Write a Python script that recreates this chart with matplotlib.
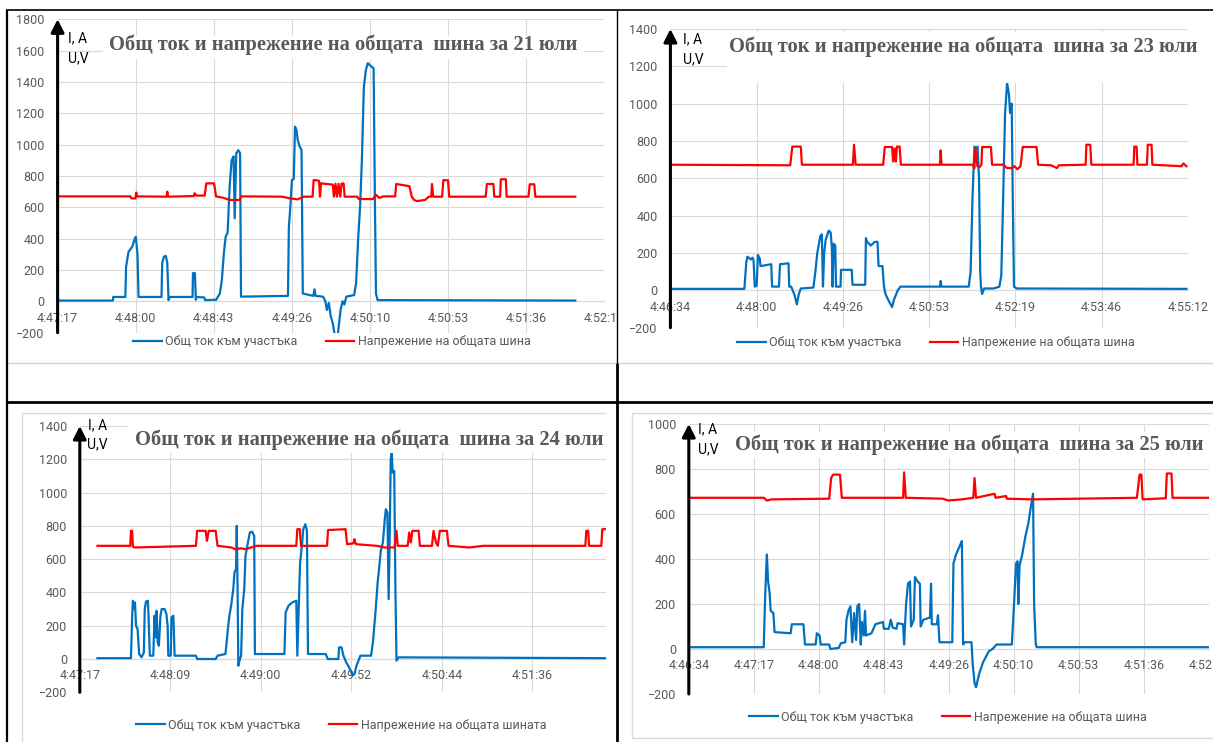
"""Four panels: bus current and voltage for 21, 23, 24 and 25 July (Word table of Excel charts)."""

import matplotlib
matplotlib.use("Agg")
import matplotlib.pyplot as plt
from matplotlib.lines import Line2D
from matplotlib.patches import Rectangle
from matplotlib.transforms import Bbox, TransformedBbox

W, H = 1213, 742

# ── colours / fonts ────────────────────────────────────────────
BLUE = "#0070C0"
RED = "#FF0000"
GRID = "#D9D9D9"
TXT = "#595959"
SANS = ["Roboto", "DejaVu Sans"]
SERIF = ["Liberation Serif", "DejaVu Serif"]

plt.rcParams["font.family"] = SANS

# ── data: time in seconds from the first axis label ───────────
CURRENT_LABEL = "Общ ток към участъка"
VOLTAGE_LABEL = "Напрежение на общата шина"
VOLTAGE_LABEL_24 = "Напрежение на общата шината"

# 21 July
xlabels_21 = ["4:47:17", "4:48:00", "4:48:43", "4:49:26", "4:50:10", "4:50:53", "4:51:36", "4:52:19"]
t21_i = [0, 30.6, 30.8, 37.5, 37.9, 39.2, 41.4, 42.4, 43.3, 44.2,
         44.8, 57.5, 57.9, 58.8, 59.9, 60.7, 61.4, 62.0, 74.7, 74.9,
         76.0, 76.5, 76.9, 81.2, 81.6, 87.7, 89.8, 90.9, 92.0, 93.0,
         94.1, 95.2, 96.3, 97.4, 98.0, 98.9, 100.0, 101.0, 101.5, 127.5,
         128.0, 128.8, 129.7, 130.7, 131.4, 132.2, 132.9, 134.0, 135.0, 135.7,
         141.5, 142.2, 142.8, 146.9, 148.2, 149.0, 150.1, 151.2, 152.3, 153.3,
         155.1, 156.6, 157.7, 158.7, 159.8, 164.1, 165.2, 166.3, 167.4, 168.4,
         169.5, 170.6, 171.7, 172.7, 174.9, 175.6, 176.2, 177.1, 286.5]
i21 = [5, 5, 28, 28, 220, 315, 350, 390, 412, 300,
       28, 28, 245, 285, 290, 245, 8, 28, 28, 180,
       180, 10, 28, 25, 8, 10, 50, 135, 305, 412,
       440, 730, 900, 925, 530, 945, 965, 945, 30, 35,
       476, 604, 775, 780, 1115, 1094, 1030, 987, 966, 50,
       35, 77, 35, 30, 0, -55, -10, -98, -140, -210,
       -210, -55, 0, -20, 30, 40, 115, 390, 604, 900,
       1370, 1476, 1520, 1508, 1487, 650, 50, 8, 5]
t21_u = [0, 40.3, 40.9, 43.1, 43.5, 44.0, 60.3, 60.7, 61.2, 75.4,
         75.8, 76.9, 81.4, 82.3, 86.6, 87.7, 92.0, 95.2, 100.8, 101.6,
         124.3, 128.6, 132.9, 136.1, 141.1, 141.7, 144.7, 145.2, 145.8, 152.3,
         152.9, 153.8, 154.6, 155.5, 156.4, 157.2, 158.3, 158.9, 165.8, 166.7,
         174.5, 176.2, 178.1, 180.3, 186.8, 187.4, 194.7, 196.0, 197.3, 199.0,
         203.3, 205.5, 206.8, 207.2, 207.9, 212.8, 213.5, 216.1, 216.7, 236.9,
         237.6, 241.2, 241.7, 244.9, 245.3, 248.1, 248.5, 260.6, 261.3, 263.8,
         264.4, 286.5]
u21 = [670, 670, 657, 657, 694, 670, 668, 700, 668, 672,
       690, 675, 675, 753, 753, 670, 660, 647, 647, 670,
       668, 657, 651, 668, 668, 774, 770, 668, 753, 745,
       668, 750, 668, 750, 668, 752, 752, 668, 668, 653,
       653, 680, 660, 670, 670, 749, 735, 668, 647, 640,
       647, 668, 668, 749, 668, 668, 774, 772, 668, 668,
       749, 749, 668, 668, 779, 779, 668, 668, 747, 747,
       668, 668]

# 23 July
xlabels_23 = ["4:46:34", "4:48:00", "4:49:26", "4:50:53", "4:52:19", "4:53:46", "4:55:12"]
t23_i = [0, 74.1, 76.0, 77.2, 80.6, 82.2, 83.3, 84.5, 86.4, 87.6,
         89.5, 90.2, 101.0, 101.8, 108.7, 109.8, 118.3, 119.0, 121.0, 124.0,
         126.7, 128.6, 130.6, 143.2, 145.2, 147.1, 150.1, 151.7, 152.8, 154.0,
         155.5, 158.6, 160.5, 161.7, 162.4, 163.6, 165.1, 165.9, 170.4, 170.9,
         181.6, 182.4, 195.1, 195.8, 197.0, 200.8, 204.7, 207.4, 208.5, 212.4,
         213.9, 215.4, 218.1, 222.0, 223.9, 227.7, 230.4, 270.0, 270.7, 271.5,
         298.8, 300.7, 302.6, 304.5, 306.4, 307.6, 309.1, 310.3, 311.0, 312.2,
         314.1, 323.7, 329.5, 331.4, 333.3, 335.2, 337.2, 339.1, 340.2, 341.8,
         342.9, 344.1, 346.8, 516.9]
i23 = [8, 8, 150, 180, 165, 175, 160, 20, 25, 190,
       170, 130, 140, 20, 20, 140, 145, 20, 20, -20,
       -75, -20, 10, 15, 100, 200, 290, 300, 20, 200,
       270, 320, 310, 230, 20, 250, 240, 20, 20, 110,
       110, 30, 30, 280, 260, 240, 260, 260, 130, 130,
       20, -20, -50, -90, -50, 0, 20, 20, 50, 20,
       20, 100, 500, 770, 760, 770, 600, 100, 20, -20,
       10, 10, 20, 80, 500, 950, 1110, 1050, 950, 1000,
       500, 20, 10, 8]
t23_u = [0, 120.0, 122.1, 130.6, 131.7, 182.8, 183.9, 185.5, 213.1, 214.7,
         222.0, 223.1, 224.6, 225.8, 226.9, 229.6, 230.8, 270.0, 270.7, 271.5,
         302.6, 304.5, 305.5, 307.5, 309.5, 311.5, 312.2, 321.0, 322.2, 333.3,
         337.2, 342.1, 344.8, 347.5, 350.6, 352.9, 366.7, 368.3, 381.3, 387.1,
         389.0, 415.9, 416.6, 420.5, 421.6, 463.9, 464.6, 466.9, 467.7, 477.3,
         478.1, 481.9, 482.7, 511.9, 513.8, 516.9]
u23 = [673, 670, 770, 770, 673, 673, 780, 673, 673, 768,
       768, 690, 760, 690, 770, 770, 673, 673, 750, 673,
       673, 655, 760, 665, 660, 673, 768, 768, 673, 673,
       655, 655, 665, 648, 665, 768, 768, 673, 670, 655,
       670, 673, 780, 780, 673, 673, 770, 770, 673, 673,
       780, 780, 673, 665, 680, 665]

# 24 July
xlabels_24 = ["4:47:17", "4:48:09", "4:49:00", "4:49:52", "4:50:44", "4:51:36"]
t24_i = [10.1, 29.3, 30.0, 30.4, 31.1, 31.6, 32.2, 33.1, 34.0, 35.4,
         36.7, 37.2, 37.9, 39.0, 39.4, 40.1, 42.1, 42.8, 43.5, 44.0,
         44.6, 45.3, 46.2, 46.9, 48.5, 49.6, 50.3, 50.7, 52.1, 52.5,
         53.6, 54.3, 66.5, 67.2, 77.8, 78.9, 83.4, 84.1, 85.0, 85.7,
         86.8, 87.9, 88.6, 89.5, 89.9, 90.4, 90.8, 91.7, 92.4, 93.1,
         94.2, 94.9, 96.3, 97.4, 98.7, 99.9, 100.3, 117.2, 117.9, 119.5,
         121.7, 124.0, 124.6, 125.5, 126.2, 127.4, 128.0, 129.2, 130.1, 130.7,
         140.9, 142.0, 148.1, 148.5, 149.9, 151.0, 152.6, 153.7, 155.1, 156.2,
         157.3, 158.5, 160.0, 160.7, 166.8, 167.9, 169.5, 170.6, 171.5, 172.4,
         173.6, 174.7, 175.3, 176.2, 176.9, 177.6, 178.1, 178.7, 179.2, 180.1,
         180.8, 181.4, 182.6, 301.4]
i24 = [5, 5, 260, 350, 300, 340, 200, 180, 30, 10,
       40, 300, 345, 350, 250, 20, 20, 260, 130, 290,
       100, 80, 260, 300, 300, 270, 200, 20, 20, 250,
       260, 20, 20, 0, 0, 20, 30, 100, 200, 260,
       330, 420, 520, 540, 800, 400, -40, 0, 20, 300,
       420, 620, 700, 760, 765, 740, 30, 30, 280, 320,
       340, 350, 20, 350, 580, 700, 780, 810, 770, 30,
       30, 0, 0, 70, 70, 20, -20, -40, -70, -100,
       -90, -40, 0, 20, 20, 100, 300, 460, 550, 650,
       700, 840, 900, 880, 360, 800, 1200, 1240, 1120, 1130,
       400, -10, 10, 5]
t24_u = [10.1, 28.9, 29.3, 30.0, 30.4, 31.6, 66.5, 67.2, 72.1, 72.8,
         73.9, 77.8, 78.9, 86.8, 89.0, 92.4, 94.7, 98.0, 101.4, 124.0,
         124.6, 126.0, 126.7, 141.6, 142.2, 152.2, 153.1, 156.7, 157.3, 157.8,
         158.2, 170.2, 174.7, 180.3, 181.4, 182.1, 187.8, 188.7, 189.6, 190.5,
         194.1, 194.8, 201.7, 202.6, 204.0, 205.1, 206.2, 210.3, 211.2, 223.1,
         231.0, 289.6, 290.1, 291.2, 291.7, 298.7, 299.3, 301.4]
u24 = [680, 680, 770, 770, 675, 670, 680, 770, 770, 710,
       770, 770, 680, 670, 660, 665, 660, 670, 680, 680,
       780, 780, 680, 680, 775, 780, 690, 695, 720, 700,
       690, 680, 670, 670, 770, 680, 680, 760, 700, 770,
       770, 680, 680, 770, 700, 680, 770, 770, 680, 670,
       680, 680, 770, 770, 680, 680, 780, 780]

# 25 July
xlabels_25 = ["4:46:34", "4:47:17", "4:48:00", "4:48:43", "4:49:26", "4:50:10", "4:50:53", "4:51:36", "4:52:19"]
t25_i = [0, 49.8, 50.6, 51.4, 51.9, 52.7, 53.7, 54.4, 56.2, 57.0,
         67.7, 68.5, 76.2, 77.2, 84.3, 85.1, 86.9, 87.7, 93.3, 94.1,
         99.7, 101.0, 104.0, 104.8, 106.1, 107.4, 108.6, 109.9, 111.2, 112.0,
         113.2, 114.3, 115.0, 116.3, 117.1, 117.8, 121.4, 124.0, 129.1, 129.6,
         132.9, 134.2, 135.5, 138.0, 138.8, 142.4, 143.1, 144.4, 145.7, 147.0,
         147.7, 149.5, 150.3, 152.1, 153.6, 154.1, 155.9, 160.3, 161.0, 161.5,
         164.9, 165.6, 166.6, 175.1, 175.9, 177.6, 180.2, 181.5, 182.3, 183.3,
         187.9, 188.6, 189.9, 190.9, 193.0, 195.5, 199.4, 201.9, 204.5, 214.7,
         216.0, 217.5, 218.5, 219.0, 219.8, 221.6, 223.7, 225.7, 227.5, 228.8,
         229.5, 230.6, 231.3, 345.6]
i25 = [8, 8, 200, 350, 420, 300, 250, 170, 160, 75,
       70, 110, 110, 20, 20, 70, 60, 20, 20, 0,
       5, 25, 30, 130, 170, 190, 30, 160, 40, 190,
       200, 20, 120, 60, 170, 60, 70, 110, 120, 90,
       90, 130, 95, 90, 115, 110, 20, 200, 290, 300,
       100, 130, 320, 300, 290, 100, 130, 140, 290, 110,
       110, 150, 30, 30, 380, 420, 460, 480, 20, 30,
       30, -60, -150, -170, -110, -60, -10, 0, 20, 20,
       180, 380, 390, 200, 370, 420, 500, 560, 640, 690,
       200, 20, 8, 8]
t25_u = [0, 49.8, 51.9, 55.0, 93.3, 94.6, 95.9, 100.5, 101.7, 142.4,
         143.1, 144.2, 168.7, 172.5, 181.5, 189.1, 189.9, 190.9, 203.2, 203.9,
         210.9, 211.4, 228.8, 297.8, 299.6, 300.8, 301.6, 317.0, 317.7, 320.8,
         321.5, 345.6]
u25 = [672, 672, 660, 665, 668, 760, 775, 775, 672, 672,
       785, 672, 668, 660, 665, 672, 760, 672, 690, 672,
       680, 668, 665, 672, 775, 775, 665, 670, 780, 780,
       672, 672]


# ── layout (pixel positions in the 1213x742 picture) ───────────
PANELS = [
    dict(day="21", ax_px=(57.6, 19.3, 604, 332.7), ylim=(-200, 1800), xmax=302.4, xstep=43.2,
         xlabels=xlabels_21, ti=t21_i, i=i21, tu=t21_u, u=u21, ulabel=VOLTAGE_LABEL,
         title_c=(343, 45), title_box=(103, 36, 584, 59), units=(68, 38, 58),
         legend=(133, 342), clip_last=True),
    dict(day="23", ax_px=(670.4, 29, 1188, 327.7), ylim=(-200, 1400), xmax=518.4, xstep=86.4,
         xlabels=xlabels_23, ti=t23_i, i=i23, tu=t23_u, u=u23, ulabel=VOLTAGE_LABEL,
         title_c=(963, 46.7), title_box=(727, 32, 1197, 83), units=(683, 39, 59),
         legend=(737, 342.7), clip_last=False),
    dict(day="24", ax_px=(79.8, 426, 606, 692.3), ylim=(-200, 1400), xmax=301.4, xstep=51.84,
         xlabels=xlabels_24, ti=t24_i, i=i24, tu=t24_u, u=u24, ulabel=VOLTAGE_LABEL_24,
         title_c=(369, 440), title_box=(128, 420, 612, 453), units=(87.5, 425, 444),
         legend=(136, 725), clip_last=False),
    dict(day="25", ax_px=(688.8, 424, 1208.8, 694), ylim=(-200, 1000), xmax=345.6, xstep=43.2,
         xlabels=xlabels_25, ti=t25_i, i=i25, tu=t25_u, u=u25, ulabel=VOLTAGE_LABEL,
         title_c=(969, 445), title_box=(725, 432, 1213, 458), units=(697.7, 429.3, 449.3),
         legend=(749, 717.3), clip_last=False),
]


def fx(x):
    return x / W


def fy(y):
    return 1 - y / H


def fig_line(fig, xs, ys, color="black", lw=1.5, z=6):
    fig.add_artist(Line2D([fx(x) for x in xs], [fy(y) for y in ys], color=color, lw=lw,
                          zorder=z, transform=fig.transFigure, solid_capstyle="butt"))


def fig_box(fig, x0, y0, x1, y1, z=1):
    fig.add_artist(Rectangle((fx(x0), fy(y1)), (x1 - x0) / W, (y1 - y0) / H,
                             transform=fig.transFigure, facecolor="white",
                             edgecolor="none", zorder=z))


def draw_panel(fig, p):
    x0, y0, x1, y1 = p["ax_px"]
    ax = fig.add_axes([fx(x0), fy(y1), (x1 - x0) / W, (y1 - y0) / H])
    ax.set_facecolor("none")

    li, = ax.plot(p["ti"], p["i"], color=BLUE, lw=1.6, label=CURRENT_LABEL, zorder=3)
    lu, = ax.plot(p["tu"], p["u"], color=RED, lw=1.6, label=p["ulabel"], zorder=3)

    ymin, ymax = p["ylim"]
    ax.set_ylim(ymin, ymax)
    ax.set_xlim(0, p["xmax"])
    ax.set_yticks(range(ymin, ymax + 1, 200))
    n = len(p["xlabels"])
    ax.set_xticks([k * p["xstep"] for k in range(n)])
    ax.set_xticklabels(p["xlabels"])

    ax.grid(True, color=GRID, lw=0.8)
    ax.set_axisbelow(True)
    for side in ("left", "right", "top"):
        ax.spines[side].set_visible(False)
    ax.spines["bottom"].set_position(("data", 0))
    ax.spines["bottom"].set_color(GRID)
    ax.spines["bottom"].set_linewidth(0.8)
    ax.tick_params(axis="both", length=0, labelsize=9, labelcolor=TXT)
    ax.tick_params(axis="y", pad=9.3)
    ax.tick_params(axis="x", pad=7.5)

    # y axis drawn as a black arrow
    ax.annotate("", xy=(0, ymax), xytext=(0, ymin), annotation_clip=False,
                arrowprops=dict(arrowstyle="-|>,head_length=0.55,head_width=0.28",
                                color="black", lw=2.2, shrinkA=0, shrinkB=0,
                                mutation_scale=14, clip_on=False), zorder=4)

    if p["clip_last"]:
        lbl = ax.xaxis.get_major_ticks()[-1].label1
        lbl.set_clip_box(TransformedBbox(Bbox([[fx(7), 0], [fx(616), 1]]), fig.transFigure))
        lbl.set_clip_on(True)

    # title on a white box over the gridlines and lines
    bx0, by0, bx1, by1 = p["title_box"]
    fig_box(fig, bx0, by0, bx1, by1)
    cx, cy = p["title_c"]
    fig.text(fx(cx), fy(cy), f"Общ ток и напрежение на общата  шина за {p['day']} юли",
             ha="center", va="center", fontsize=14.8, fontweight="bold",
             family=SERIF, color=TXT, zorder=3)

    ux, uy1, uy2 = p["units"]
    fig.text(fx(ux), fy(uy1), "I, A", ha="left", va="center", fontsize=10, color="black", zorder=3)
    fig.text(fx(ux), fy(uy2), "U,V", ha="left", va="center", fontsize=10, color="black", zorder=3)

    lx, ly = p["legend"]
    ax.legend(handles=[li, lu], loc="center left", bbox_to_anchor=(fx(lx), fy(ly)),
              bbox_transform=fig.transFigure, ncol=2, frameon=False, fontsize=9,
              handlelength=2.3, handletextpad=0.28, columnspacing=2.25,
              borderpad=0, borderaxespad=0, labelcolor=TXT)
    return ax


fig = plt.figure(figsize=(W / 100, H / 100), dpi=100)
fig.patch.set_facecolor("white")

for panel in PANELS:
    draw_panel(fig, panel)

# chart frames (light grey)
fig_line(fig, [7, 1213], [363, 363], color="#D0D0D0", lw=1.0, z=5)
fig_line(fig, [22, 22], [413, 742], color="#D9D9D9", lw=1.0, z=5)
fig_line(fig, [22, 606], [413, 413], color="#D9D9D9", lw=1.0, z=5)
fig_line(fig, [632, 632], [413, 738], color="#D9D9D9", lw=1.0, z=5)
fig_line(fig, [632, 1213], [413, 413], color="#D9D9D9", lw=1.0, z=5)
fig_line(fig, [632, 1213], [738, 738], color="#D9D9D9", lw=1.0, z=5)

# table borders (black)
fig_line(fig, [6, 1213], [10, 10], lw=1.2)
fig_line(fig, [7, 7], [10, 742], lw=1.6)
fig_line(fig, [617, 617], [10, 363], lw=1.0)
fig_line(fig, [617, 617], [363, 742], lw=2.0)
fig_line(fig, [6, 1213], [402, 402], lw=2.0)

fig.savefig("out.png", dpi=100, facecolor="white")
